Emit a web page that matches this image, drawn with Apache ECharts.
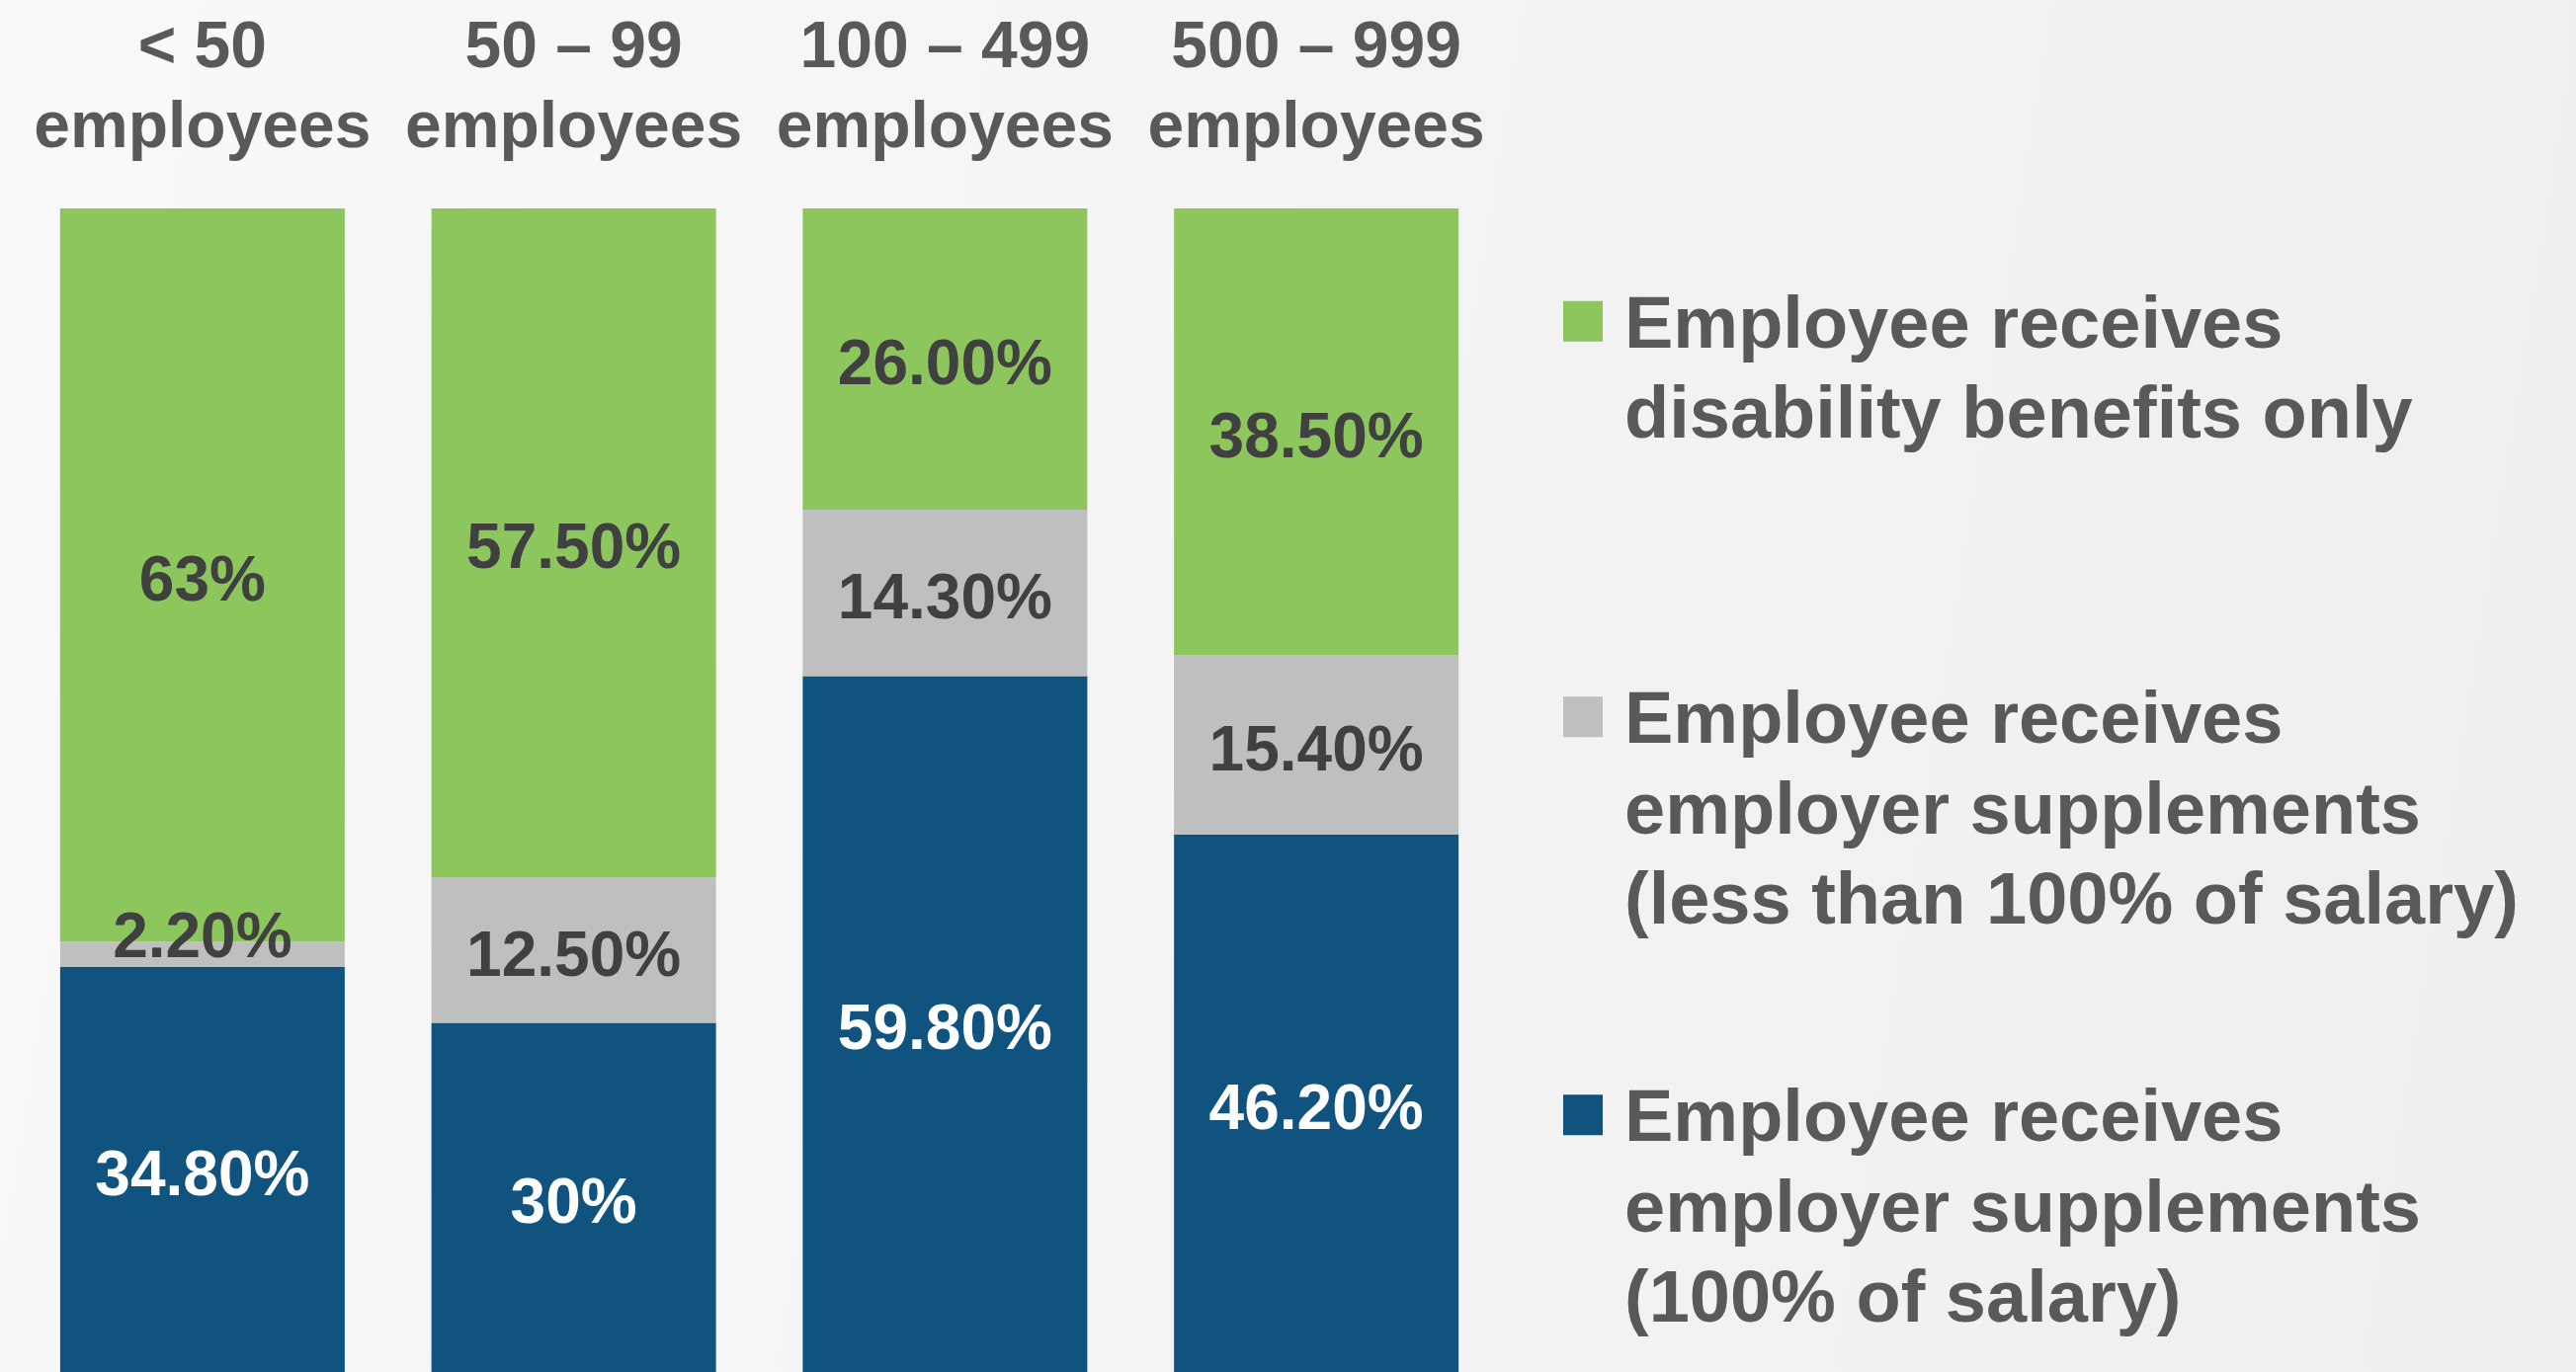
<!DOCTYPE html>
<html>
<head>
<meta charset="utf-8">
<script src="https://cdn.jsdelivr.net/npm/echarts@6/dist/echarts.min.js"></script>
<style>
html,body{margin:0;padding:0;width:2607px;height:1389px;overflow:hidden;}
#chart{width:2607px;height:1389px;}
</style>
</head>
<body>
<div id="chart"></div>
<script>
// Data
const categories = ['< 50\nemployees', '50 – 99\nemployees', '100 – 499\nemployees', '500 – 999\nemployees'];
const seriesNames = [
  'Employee receives employer supplements (100% of salary)',
  'Employee receives employer supplements (less than 100% of salary)',
  'Employee receives disability benefits only'
];
const legendLines = {
  'Employee receives disability benefits only': ['Employee receives', 'disability benefits only'],
  'Employee receives employer supplements (less than 100% of salary)': ['Employee receives', 'employer supplements', '(less than 100% of salary)'],
  'Employee receives employer supplements (100% of salary)': ['Employee receives', 'employer supplements', '(100% of salary)']
};
const fullSalary = [34.8, 30, 59.8, 46.2];
const partialSalary = [2.2, 12.5, 14.3, 15.4];
const benefitsOnly = [63, 57.5, 26.0, 38.5];
const fullSalaryLabels = ['34.80%', '30%', '59.80%', '46.20%'];
const partialSalaryLabels = ['2.20%', '12.50%', '14.30%', '15.40%'];
const benefitsOnlyLabels = ['63%', '57.50%', '26.00%', '38.50%'];

const FONT = "'Liberation Sans', Arial, sans-serif";
const colors = ['#10537F', '#BFBFBF', '#8CC65C'];
const LH = 91.5;
const LEG_SHIFT = 12; // total extra height of spacer lines -> pushes text down by half

function makeSeries(name, values, labels, color, labelColor, labelOffsets) {
  return {
    name: name,
    type: 'bar',
    stack: 'total',
    barWidth: 288,
    data: values.map(function (v, i) {
      const off = labelOffsets && labelOffsets[i];
      return off ? { value: v, label: { offset: [0, off] } } : v;
    }),
    itemStyle: { color: color },
    label: {
      show: true,
      position: 'inside',
      offset: [0, 8],
      fontFamily: FONT,
      fontWeight: 'bold',
      fontSize: 64,
      color: labelColor,
      formatter: function (p) { return labels[p.dataIndex]; }
    }
  };
}

function makeLegend(name, top) {
  const lines = legendLines[name];
  const parts = [];
  for (let i = 0; i < lines.length - 1; i++) parts.push('{e| }');
  lines.forEach(function (l) { parts.push('{t|' + l + '}'); });
  const text = parts.join('\n');
  const base = { fontFamily: FONT, fontWeight: 'bold', fontSize: 74, color: '#595959' };
  return {
    data: [name],
    left: 1582,
    top: top - LEG_SHIFT / 2,
    padding: 0,
    itemWidth: 40,
    itemHeight: 41,
    icon: 'rect',
    selectedMode: false,
    formatter: function () { return text; },
    textStyle: Object.assign({}, base, {
      lineHeight: LH,
      padding: [0, 0, 0, 17],
      rich: {
        e: Object.assign({}, base, { lineHeight: LH + LEG_SHIFT / (lines.length - 1) }),
        t: Object.assign({}, base, { lineHeight: LH })
      }
    })
  };
}

const chart = echarts.init(document.getElementById('chart'));
chart.setOption({
  animation: false,
  backgroundColor: {
    type: 'linear', x: 0, y: 0, x2: 1, y2: 0.3,
    colorStops: [{ offset: 0, color: '#F9F9F9' }, { offset: 1, color: '#EFEFEF' }]
  },
  color: colors,
  grid: { left: 17, right: 1087, top: 211, bottom: 0, containLabel: false },
  xAxis: {
    type: 'category',
    position: 'top',
    data: categories,
    axisLine: { show: false },
    axisTick: { show: false },
    axisLabel: {
      margin: 40,
      fontFamily: FONT,
      fontWeight: 'bold',
      fontSize: 66,
      lineHeight: 81,
      color: '#595959',
      interval: 0
    }
  },
  yAxis: {
    type: 'value',
    min: 0,
    max: 100,
    show: false,
    splitLine: { show: false }
  },
  legend: [
    makeLegend(seriesNames[2], 188),
    makeLegend(seriesNames[1], 497),
    makeLegend(seriesNames[0], 900)
  ],
  series: [
    makeSeries(seriesNames[0], fullSalary, fullSalaryLabels, colors[0], '#FFFFFF'),
    makeSeries(seriesNames[1], partialSalary, partialSalaryLabels, colors[1], '#404040', [-15, 0, 0, 0]),
    makeSeries(seriesNames[2], benefitsOnly, benefitsOnlyLabels, colors[2], '#404040')
  ]
});
</script>
</body>
</html>
